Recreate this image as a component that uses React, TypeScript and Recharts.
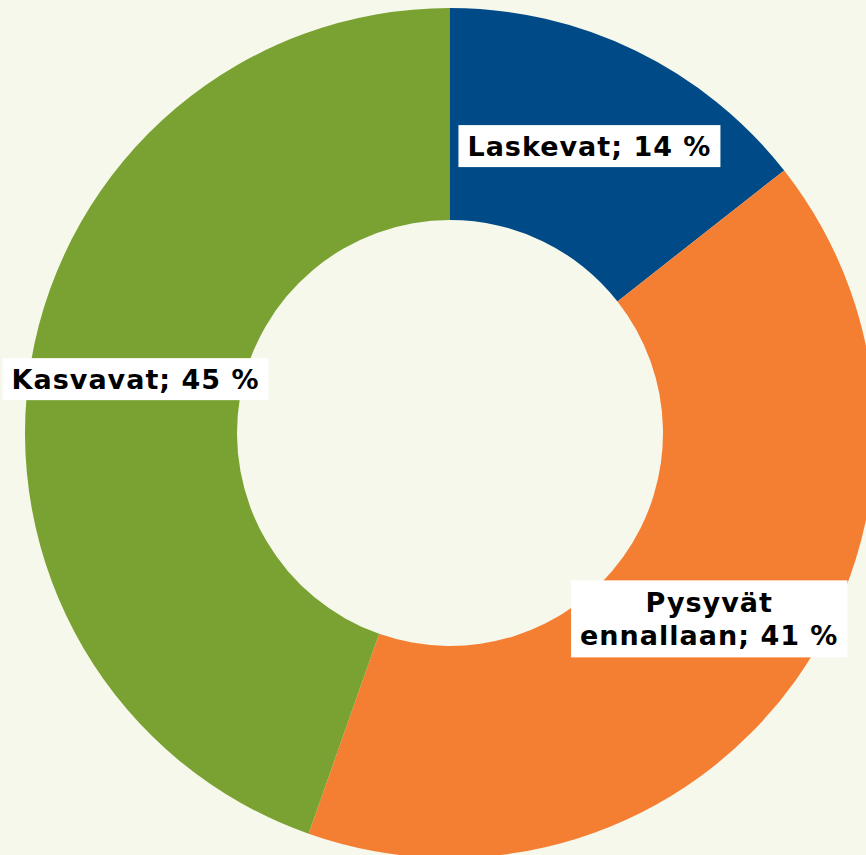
import { Cell, Pie, PieChart } from "recharts";

const categories = ["Laskevat", "Pysyvät ennallaan", "Kasvavat"];
const shares = [14.4, 41.0, 44.6];
const colors = ["#004b87", "#f47f33", "#79a232"];

const data = categories.map((name, i) => ({ name, value: shares[i] }));

const FONT_SIZE = 27;
const SPACING = 1;
const FONT = `bold ${FONT_SIZE}px 'DejaVu Sans'`;
const RAD = Math.PI / 180;

let ctx: CanvasRenderingContext2D | null = null;
function measure(text: string) {
  if (!ctx) ctx = document.createElement("canvas").getContext("2d");
  if (!ctx) return text.length * 17;
  ctx.font = FONT;
  return ctx.measureText(text).width + text.length * SPACING;
}

function renderLabel(props: any) {
  const { cx, cy, midAngle, innerRadius, outerRadius, name, value } = props;
  const r = (innerRadius + outerRadius) / 2;
  const x = cx + r * Math.cos(-midAngle * RAD);
  const y = cy + r * Math.sin(-midAngle * RAD);
  const full = `${name}; ${Math.round(value)} %`;
  let lines = [full];
  if (measure(full) > 290) {
    const sp = full.indexOf(" ");
    lines = [full.slice(0, sp), full.slice(sp + 1)];
  }
  const w = Math.max(...lines.map(measure)) + 18;
  const lineH = 33;
  const h = 42 + (lines.length - 1) * 35;
  const y0 = y - ((lines.length - 1) * lineH) / 2;
  return (
    <g>
      <rect x={x - w / 2} y={y - h / 2} width={w} height={h} fill="#ffffff" />
      {lines.map((l, i) => (
        <text
          key={i}
          x={x}
          y={y0 + i * lineH}
          textAnchor="middle"
          dominantBaseline="central"
          fontFamily="'DejaVu Sans', Verdana, sans-serif"
          fontWeight="bold"
          fontSize={FONT_SIZE}
          letterSpacing={SPACING}
          fill="#000000"
        >
          {l}
        </text>
      ))}
    </g>
  );
}

export default function App() {
  return (
    <div style={{ width: 866, height: 855, background: "#f6f8eb", position: "absolute", left: 0, top: 0 }}>
      <style>{"body{margin:0;background:#f6f8eb}"}</style>
      <PieChart width={866} height={855} margin={{ top: 0, right: 0, bottom: 0, left: 0 }}>
        <Pie
          data={data}
          dataKey="value"
          nameKey="name"
          cx={450}
          cy={433}
          innerRadius={213}
          outerRadius={425}
          startAngle={90}
          endAngle={-270}
          stroke="none"
          labelLine={false}
          label={renderLabel}
          isAnimationActive={false}
        >
          {data.map((d, i) => (
            <Cell key={d.name} fill={colors[i]} />
          ))}
        </Pie>
      </PieChart>
    </div>
  );
}
